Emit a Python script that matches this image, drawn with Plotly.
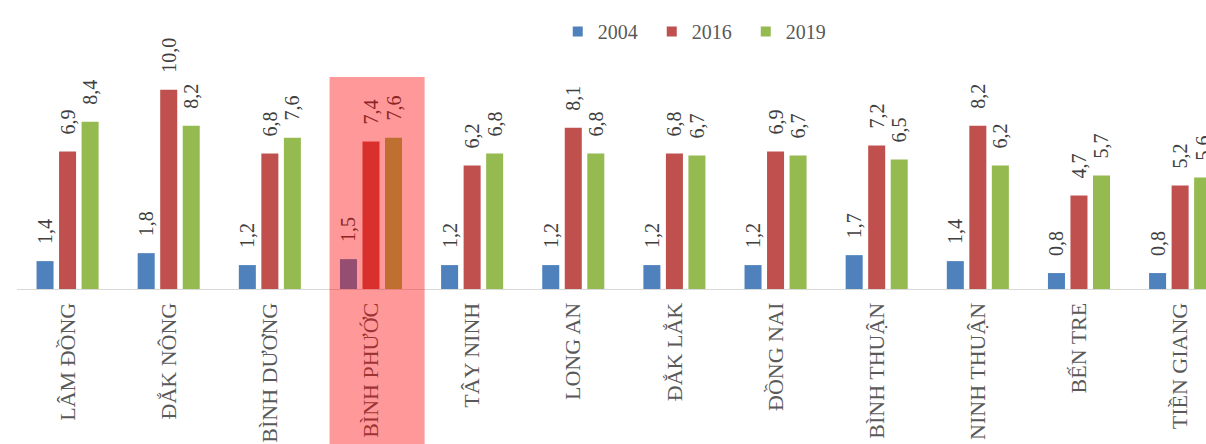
import plotly.graph_objects as go

# Provinces and values per survey year
provinces = ["LÂM ĐỒNG", "ĐẮK NÔNG", "BÌNH DƯƠNG", "BÌNH PHƯỚC", "TÂY NINH",
             "LONG AN", "ĐẮK LẮK", "ĐỒNG NAI", "BÌNH THUẬN", "NINH THUẬN",
             "BẾN TRE", "TIỀN GIANG"]
years = ["2004", "2016", "2019"]
values_2004 = [1.4, 1.8, 1.2, 1.5, 1.2, 1.2, 1.2, 1.2, 1.7, 1.4, 0.8, 0.8]
values_2016 = [6.9, 10.0, 6.8, 7.4, 6.2, 8.1, 6.8, 6.9, 7.2, 8.2, 4.7, 5.2]
values_2019 = [8.4, 8.2, 7.6, 7.6, 6.8, 6.8, 6.7, 6.7, 6.5, 6.2, 5.7, 5.6]
highlight = "BÌNH PHƯỚC"

colors = ["#4F81BD", "#C0504D", "#94BA50"]
SERIF = "Liberation Serif, Times New Roman, serif"

fig = go.Figure()
for name, vals, col in zip(years, [values_2004, values_2016, values_2019], colors):
    fig.add_trace(go.Bar(
        x=provinces, y=vals, name=name, marker_color=col, marker_line_width=0,
        texttemplate="\u00a0\u00a0\u2009%{y:.1f}", textposition="outside", textangle=-90,
        constraintext="none", cliponaxis=False,
        textfont=dict(family=SERIF, size=20, color="#404040"),
        showlegend=False,
    ))
    # small square legend swatch
    fig.add_trace(go.Scatter(
        x=[None], y=[None], mode="markers", name=name,
        marker=dict(symbol="square", size=10, color=col),
    ))

idx = provinces.index(highlight)
fig.add_shape(type="rect", xref="x", yref="paper",
              x0=idx - 0.41, x1=idx + 0.53, y0=-0.7, y1=0.887,
              fillcolor="rgba(255,0,0,0.4)", line_width=0, layer="above")

fig.update_layout(
    width=1206, height=444,
    margin=dict(l=17, r=0, t=50, b=155),
    paper_bgcolor="white", plot_bgcolor="white",
    barmode="group", bargap=0.332, bargroupgap=0.244,
    separators=",.",
    font=dict(family=SERIF, color="#595959"),
    legend=dict(orientation="h", x=0.4548, xanchor="left", y=1.159, yanchor="top",
                font=dict(family=SERIF, size=20, color="#595959"),
                itemwidth=30, entrywidth=49, bgcolor="rgba(0,0,0,0)"),
)
fig.update_xaxes(range=[-0.5, 11.256], tickangle=-90, showline=True,
                 linecolor="#D9D9D9", linewidth=1, ticks="", automargin=False,
                 ticklabelstandoff=4,
                 tickfont=dict(family=SERIF, size=22, color="#595959"),
                 showgrid=False, fixedrange=True)
fig.update_yaxes(range=[0, 12], visible=False, showgrid=False, zeroline=False)

fig.write_html("out.html")
